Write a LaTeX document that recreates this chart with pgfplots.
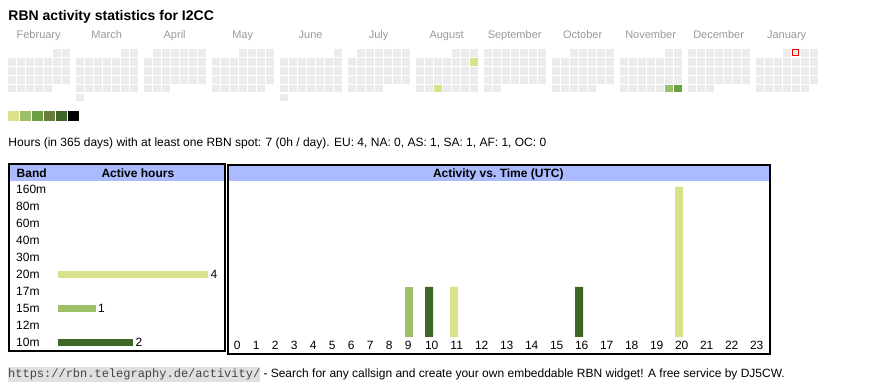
\documentclass[border=0pt]{standalone}
\usepackage{pgfplots}
\pgfplotsset{compat=1.18}
\usepackage{pgfplotstable}
\usepackage{fontspec}
\setmainfont{Liberation Sans}
\setmonofont{Liberation Mono}
\definecolor{cal0}{HTML}{EBEBEB}
\definecolor{cal1}{HTML}{D9E18B}
\definecolor{cal2}{HTML}{9CBF68}
\definecolor{cal3}{HTML}{6A9E43}
\definecolor{cal4}{HTML}{6B7B3B}
\definecolor{cal5}{HTML}{3E6627}
\definecolor{cal6}{HTML}{000000}
\definecolor{hdr}{HTML}{AABBFF}
\definecolor{mgray}{HTML}{999999}
\definecolor{urlbg}{HTML}{E0E0E0}
\definecolor{urltx}{HTML}{444444}
\newcommand\fs[1]{\fontsize{#1}{#1}\selectfont}

% calendar: m = month (0 = February ... 11 = January), r = week row,
% columns Monday..Sunday; n = no day, 0 = no activity, 1..3 = active hours, t = today
\pgfplotstableread{
m r mo tu we th fr sa su
0 0 n n n n n 0 0
0 1 0 0 0 0 0 0 0
0 2 0 0 0 0 0 0 0
0 3 0 0 0 0 0 0 0
0 4 0 0 0 0 0 n n
1 0 n n n n n 0 0
1 1 0 0 0 0 0 0 0
1 2 0 0 0 0 0 0 0
1 3 0 0 0 0 0 0 0
1 4 0 0 0 0 0 0 0
1 5 0 n n n n n n
2 0 n 0 0 0 0 0 0
2 1 0 0 0 0 0 0 0
2 2 0 0 0 0 0 0 0
2 3 0 0 0 0 0 0 0
2 4 0 0 0 n n n n
3 0 n n n 0 0 0 0
3 1 0 0 0 0 0 0 0
3 2 0 0 0 0 0 0 0
3 3 0 0 0 0 0 0 0
3 4 0 0 0 0 0 0 n
4 0 n n n n n n 0
4 1 0 0 0 0 0 0 0
4 2 0 0 0 0 0 0 0
4 3 0 0 0 0 0 0 0
4 4 0 0 0 0 0 0 0
4 5 0 n n n n n n
5 0 n 0 0 0 0 0 0
5 1 0 0 0 0 0 0 0
5 2 0 0 0 0 0 0 0
5 3 0 0 0 0 0 0 0
5 4 0 0 0 0 n n n
6 0 n n n n 0 0 0
6 1 0 0 0 0 0 0 1
6 2 0 0 0 0 0 0 0
6 3 0 0 0 0 0 0 0
6 4 0 0 1 0 0 0 0
7 0 0 0 0 0 0 0 0
7 1 0 0 0 0 0 0 0
7 2 0 0 0 0 0 0 0
7 3 0 0 0 0 0 0 0
7 4 0 0 n n n n n
8 0 n n 0 0 0 0 0
8 1 0 0 0 0 0 0 0
8 2 0 0 0 0 0 0 0
8 3 0 0 0 0 0 0 0
8 4 0 0 0 0 0 n n
9 0 n n n n n 0 0
9 1 0 0 0 0 0 0 0
9 2 0 0 0 0 0 0 0
9 3 0 0 0 0 0 0 0
9 4 0 0 0 0 0 2 3
10 0 0 0 0 0 0 0 0
10 1 0 0 0 0 0 0 0
10 2 0 0 0 0 0 0 0
10 3 0 0 0 0 0 0 0
10 4 0 0 0 n n n n
11 0 n n n 0 t 0 0
11 1 0 0 0 0 0 0 0
11 2 0 0 0 0 0 0 0
11 3 0 0 0 0 0 0 0
11 4 0 0 0 0 0 0 n
}\caldata

\pgfplotsset{
  calplot/.style={scatter, only marks, mark=square*, mark size=3.25pt,
    scatter src=explicit symbolic,
    mark options={line width=0.2pt},
    scatter/classes={
      0={cal0}, 1={cal1}, 2={cal2}, 3={cal3},
      t={fill=cal0, draw=red, line width=0.9pt},
      n={mark=none}}},
}

\begin{document}
\begin{tikzpicture}[x=1pt,y=1pt]
\useasboundingbox (0,0) rectangle (870,390);

% table frames and headers
\fill[hdr] (10.3,225) rectangle (224,209);
\fill[hdr] (228.7,225) rectangle (769,209);
\draw[line width=2pt] (9.3,225.7) rectangle (225,38.8);
\draw[line width=2pt] (227.7,225) rectangle (769.8,36.2);

% calendar heat map
\begin{axis}[at={(0pt,0pt)}, anchor=south west, scale only axis,
  width=870pt, height=390pt, xmin=0, xmax=870, ymin=0, ymax=390,
  hide axis, clip=false]
\addplot[calplot] table[x expr=11.65+68*\thisrow{m}, y expr=337.3-8.9*\thisrow{r}, meta=mo]{\caldata};
\addplot[calplot] table[x expr=20.65+68*\thisrow{m}, y expr=337.3-8.9*\thisrow{r}, meta=tu]{\caldata};
\addplot[calplot] table[x expr=29.65+68*\thisrow{m}, y expr=337.3-8.9*\thisrow{r}, meta=we]{\caldata};
\addplot[calplot] table[x expr=38.65+68*\thisrow{m}, y expr=337.3-8.9*\thisrow{r}, meta=th]{\caldata};
\addplot[calplot] table[x expr=47.65+68*\thisrow{m}, y expr=337.3-8.9*\thisrow{r}, meta=fr]{\caldata};
\addplot[calplot] table[x expr=56.65+68*\thisrow{m}, y expr=337.3-8.9*\thisrow{r}, meta=sa]{\caldata};
\addplot[calplot] table[x expr=65.65+68*\thisrow{m}, y expr=337.3-8.9*\thisrow{r}, meta=su]{\caldata};
% colour scale swatches
\addplot[scatter, only marks, mark=square*, mark size=4.65pt,
  mark options={line width=0.2pt}, scatter src=explicit symbolic,
  scatter/classes={1={cal1},2={cal2},3={cal3},4={cal4},5={cal5},6={cal6}}]
  coordinates {(13,274.2)[1] (25,274.2)[2] (37,274.2)[3] (49,274.2)[4] (61,274.2)[5] (73,274.2)[6]};
\end{axis}

% active hours per band
\begin{axis}[at={(58pt,39.2pt)}, anchor=south west, scale only axis,
  width=150pt, height=170pt, xmin=0, xmax=4, ymin=-0.5, ymax=9.5,
  xbar, bar width=7pt, clip=false,
  axis line style={draw=none}, tick style={draw=none}, major tick length=0pt,
  xtick=\empty, ytick={0,...,9},
  yticklabels={10m,12m,15m,17m,20m,30m,40m,60m,80m,160m},
  yticklabel style={anchor=base west, inner sep=0pt, xshift=-42pt, yshift=-4.3pt, font=\fs{12}},
  /pgf/number format/assume math mode=true,
  nodes near coords,
  nodes near coords style={anchor=west, inner sep=0pt, xshift=2.5pt, font=\fs{12}}]
\addplot[fill=cal1, draw=none, bar shift=0pt] coordinates {(4,4)};
\addplot[fill=cal2, draw=none, bar shift=0pt] coordinates {(1,2)};
\addplot[fill=cal5, draw=none, bar shift=0pt] coordinates {(2,0)};
\end{axis}

% activity vs. time
\begin{axis}[at={(227pt,53pt)}, anchor=south west, scale only axis,
  width=544pt, height=150pt,
  x coord trafo/.code={\pgfmathparse{(#1)<9.5 ? 237.3+19*(#1) : 181.7+25*(#1)}},
  x coord inv trafo/.code={\pgfmathparse{(#1)<417.8 ? ((#1)-237.3)/19 : ((#1)-181.7)/25}},
  xmin=-0.542, xmax=23.572, ymin=0, ymax=3,
  ybar, bar width=8pt, clip=false,
  axis line style={draw=none}, tick style={draw=none}, major tick length=0pt,
  ytick=\empty, xtick={0,1,2,3,4,5,6,7,8,9,10,11,12,13,14,15,16,17,18,19,20,21,22,23},
  xticklabels={0,1,2,3,4,5,6,7,8,9,10,11,12,13,14,15,16,17,18,19,20,21,22,23},
  xticklabel style={anchor=base, inner sep=0pt, yshift=-13pt, font=\fs{12}}]
\addplot[fill=cal1, draw=none, bar shift=-2.7pt] coordinates {(11,1) (20,3)};
\addplot[fill=cal2, draw=none, bar shift=0.7pt] coordinates {(9,1)};
\addplot[fill=cal5, draw=none, bar shift=-2.7pt] coordinates {(10,1) (16,1)};
\end{axis}

% texts
\node[anchor=base west, inner sep=0pt, font=\fs{14}\bfseries] at (8.3,369.3) {RBN activity statistics for I2CC};
\foreach \mname [count=\i from 0] in {February,March,April,May,June,July,August,September,October,November,December,January}
  \node[anchor=base, inner sep=0pt, font=\fs{11}, text=mgray] at (38.65+68*\i,351) {\mname};
\node[anchor=base west, inner sep=0pt, font=\fs{12}] at (8.3,243.5) {Hours (in 365 days) with at least one RBN spot: 7 (0h / day). EU: 4, NA: 0, AS: 1, SA: 1, AF: 1, OC: 0};
\node[anchor=base west, inner sep=0pt, font=\fs{12}\bfseries] at (16.5,212.7) {Band};
\node[anchor=base, inner sep=0pt, font=\fs{12}\bfseries] at (137.9,212.7) {Active hours};
\node[anchor=base, inner sep=0pt, font=\fs{12}\bfseries] at (498.3,212.7) {Activity vs.\ Time (UTC)};
\node[anchor=base west, inner xsep=0pt, inner ysep=0pt, fill=urlbg, text=urltx,
  text height=10.5pt, text depth=4pt, font=\fs{12}\ttfamily] at (8,12) {https://rbn.telegraphy.de/activity/};
\node[anchor=base west, inner sep=0pt, font=\fs{12}] at (263.3,12) {- Search for any callsign and create your own embeddable RBN widget! A free service by DJ5CW.};
\end{tikzpicture}
\end{document}
